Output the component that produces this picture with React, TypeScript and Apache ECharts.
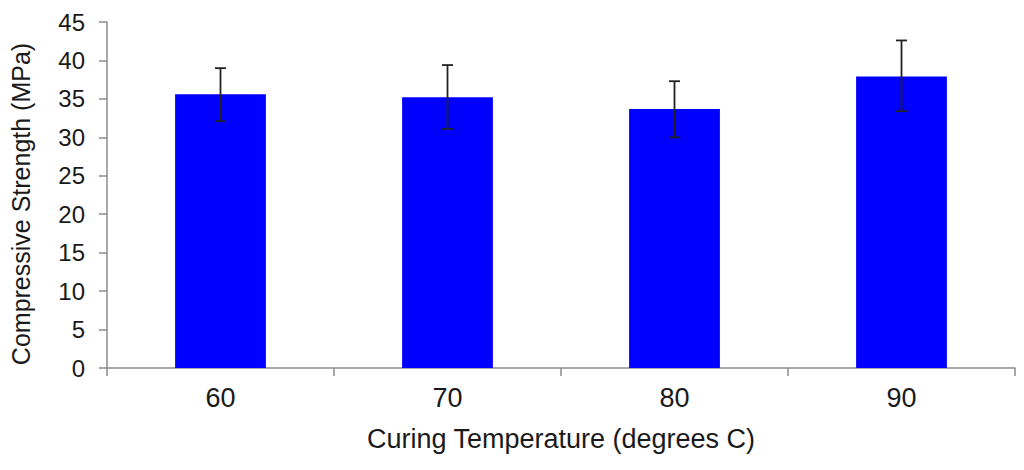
import React, { useEffect, useRef } from "react";
import * as echarts from "echarts";

const categories = ["60", "70", "80", "90"];
const strengths = [35.6, 35.2, 33.7, 37.9];
const errLow = [32.1, 31.1, 30.0, 33.4];
const errHigh = [39.0, 39.4, 37.3, 42.6];
const yTicks = { min: 0, max: 45, interval: 5 };

export default function App() {
  const ref = useRef<HTMLDivElement>(null);
  useEffect(() => {
    if (!ref.current) return;
    const chart = echarts.init(ref.current, undefined, { renderer: "svg" });
    const font = "'Liberation Sans', Arial, sans-serif";
    const errData = categories.map((c, i) => [i, errLow[i], errHigh[i]]);
    chart.setOption({
      animation: false,
      backgroundColor: "#ffffff",
      grid: { left: 105, right: 9, top: 22, bottom: 102 },
      xAxis: {
        type: "category",
        data: categories,
        name: "Curing Temperature (degrees C)",
        nameLocation: "middle",
        nameGap: 57,
        nameTextStyle: { fontFamily: font, fontSize: 27, color: "#1a1a1a" },
        axisLine: { lineStyle: { color: "#8c8c8c", width: 1.5 } },
        axisTick: { show: true, length: 8, lineStyle: { color: "#8c8c8c", width: 1.5 } },
        axisLabel: { fontFamily: font, fontSize: 27, color: "#1a1a1a", margin: 16 },
      },
      yAxis: {
        type: "value",
        min: yTicks.min,
        max: yTicks.max,
        interval: yTicks.interval,
        name: "Compressive Strength (MPa)",
        nameLocation: "middle",
        nameGap: 74,
        nameTextStyle: { fontFamily: font, fontSize: 25, color: "#1a1a1a", padding: [0, 18, 0, 0] },
        axisLine: { show: true, lineStyle: { color: "#8c8c8c", width: 1.5 } },
        axisTick: { show: true, length: 8, lineStyle: { color: "#8c8c8c", width: 1.5 } },
        axisLabel: { fontFamily: font, fontSize: 24, color: "#1a1a1a", margin: 22 },
        splitLine: { show: false },
      },
      series: [
        {
          type: "bar",
          data: strengths,
          barCategoryGap: "60%",
          itemStyle: { color: "#0000ff" },
        },
        {
          type: "custom",
          data: errData,
          z: 10,
          renderItem: (params: any, api: any) => {
            const x = api.value(0);
            const lo = api.coord([x, api.value(1)]);
            const hi = api.coord([x, api.value(2)]);
            const cap = 5.5;
            const style = { stroke: "#222222", lineWidth: 1.8 };
            return {
              type: "group",
              children: [
                { type: "line", shape: { x1: lo[0], y1: lo[1], x2: hi[0], y2: hi[1] }, style },
                { type: "line", shape: { x1: hi[0] - cap, y1: hi[1], x2: hi[0] + cap, y2: hi[1] }, style },
                { type: "line", shape: { x1: lo[0] - cap, y1: lo[1], x2: lo[0] + cap, y2: lo[1] }, style },
              ],
            };
          },
        },
      ],
    });
    return () => chart.dispose();
  }, []);
  return <div ref={ref} style={{ width: 1024, height: 470, position: "absolute", left: 0, top: 0 }} />;
}
